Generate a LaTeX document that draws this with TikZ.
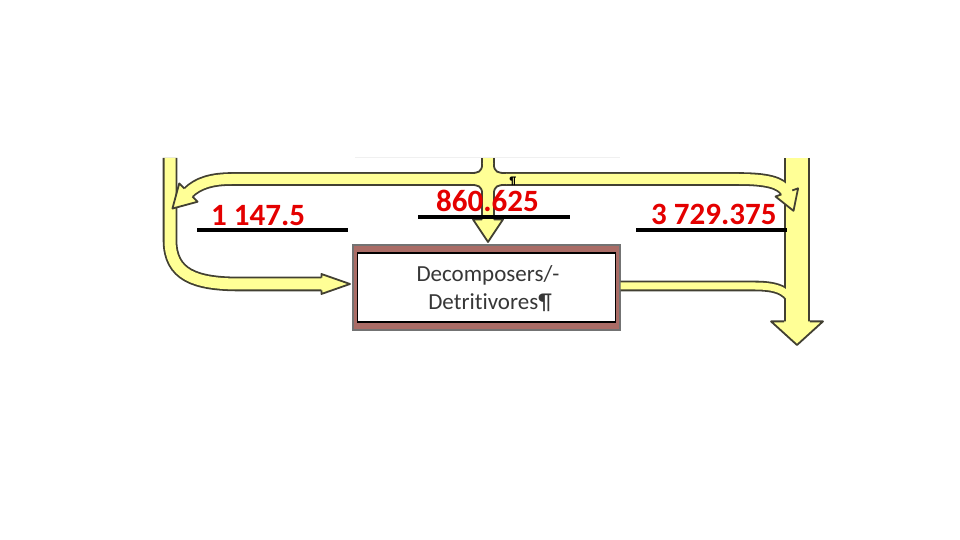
\documentclass[tikz,border=0pt]{standalone}
\usepackage{fontspec}
\setmainfont{Carlito}
\newfontfamily\boxfont{Carlito}[Ligatures=NoCommon]
\definecolor{yel}{RGB}{255,255,150}
\definecolor{ol}{RGB}{66,64,50}
\definecolor{brn}{RGB}{170,108,102}
\definecolor{lblred}{RGB}{228,0,0}
\definecolor{txt}{RGB}{55,55,55}
% arrow head: #1 base coordinate, #2 angle, #3 half band width, #4 half head width, #5 length
\newcommand\yhead[5]{%
  \begin{scope}[shift={(#1)}, rotate=#2]
    \fill[yel] (-0.6,-#4) -- (#5,0) -- (-0.6,#4) -- cycle;
    \draw[headline] (-0.6,-#3) -- (-0.6,-#4) -- (#5,0) -- (-0.6,#4) -- (-0.6,#3);
  \end{scope}}
\begin{document}
\begin{tikzpicture}[x=1pt,y=1pt,
  bandout/.style={draw=ol,line width=#1,line cap=butt},
  bandin/.style={draw=yel,line width=#1,line cap=butt},
  headline/.style={draw=ol,line width=1.8pt,line join=round},
  flare/.style={draw=ol,line width=1.8pt},
  lbl/.style={font=\bfseries\fontsize{31}{31}\selectfont,text=lblred,inner sep=0pt,anchor=base west},
  uline/.style={draw=black,line width=3.4pt},
  boxtxt/.style={font=\boxfont\fontsize{23}{28}\selectfont,text=txt,inner sep=0pt,anchor=base}]
\useasboundingbox (0,0) rectangle (960,540);
% coordinates
\coordinate (Ltop) at (170,382);
\coordinate (Lhead) at (322,256);
\coordinate (Tl) at (188,347);
\coordinate (Tr) at (787,347);
\coordinate (Mtop) at (488,382);
\coordinate (Mhead) at (488,320);
\coordinate (Rtop) at (797,382);
\coordinate (Rhead) at (797,218);
\coordinate (Cend) at (795,232);
% box
\node[draw=black!55,fill=brn,line width=1.2pt,minimum width=267pt,minimum height=85pt,inner sep=0pt] (box) at (486.5,252.5) {};
\coordinate (Cstart) at ([yshift=1.5pt]box.east);
% faint top line
\draw[gray!12,line width=1pt] (355,382) -- (620,382);
% band outlines
\draw[bandout=14.6pt] (Ltop) -- (170,300) .. controls (170,265) and (195,256) .. (240,256) -- (Lhead);
\draw[bandout=13.6pt] (Tl) .. controls (198,357) and (212,361) .. (232,361) -- (738,361) .. controls (765,361) and (782,358) .. (Tr);
\draw[bandout=13.6pt] (Mtop) -- (Mhead);
\draw[bandout=10.6pt] (Cstart) -- (755,254) .. controls (780,254) and (790,248) .. (Cend);
\draw[bandout=25.6pt] (Rtop) -- (Rhead);
% band interiors
\draw[bandin=11pt] (Ltop) -- (170,300) .. controls (170,265) and (195,256) .. (240,256) -- (Lhead);
\draw[bandin=10pt] (Tl) .. controls (198,357) and (212,361) .. (232,361) -- (738,361) .. controls (765,361) and (782,358) .. (Tr);
\draw[bandin=10pt] (Mtop) -- (Mhead);
\draw[bandin=7pt] (Cstart) -- (755,254) .. controls (780,254) and (790,248) .. (Cend);
\draw[bandin=22pt] (Rtop) -- (Rhead);
% flares at middle junction
\fill[yel] (482.1,376) .. controls (482.1,368) and (478,366.9) .. (470,366.9) -- (470,365) -- (506,365) -- (506,366.9) .. controls (498,366.9) and (493.9,368) .. (493.9,376) -- cycle;
\draw[flare] (482.1,376) .. controls (482.1,368) and (478,366.9) .. (470,366.9);
\draw[flare] (506,366.9) .. controls (498,366.9) and (493.9,368) .. (493.9,376);
\fill[yel] (470,355.1) -- (470,357) -- (506,357) -- (506,355.1) .. controls (498,355.1) and (493.9,354) .. (493.9,346) -- (482.1,346) .. controls (482.1,354) and (478,355.1) .. (470,355.1) -- cycle;
\draw[flare] (506,355.1) .. controls (498,355.1) and (493.9,354) .. (493.9,346);
\draw[flare] (482.1,346) .. controls (482.1,354) and (478,355.1) .. (470,355.1);
% arrow heads
\yhead{Lhead}{0}{6.3}{10}{28}
\yhead{Tl}{-135}{5.8}{13}{22}
\yhead{Tr}{-70}{5.8}{12}{19}
\yhead{Mhead}{-90}{5.8}{15}{22}
\yhead{Rhead}{-90}{12.8}{26}{23}
% inner box and text
\node[draw=black,fill=white,line width=1.6pt,minimum width=258pt,minimum height=69pt,inner sep=0pt] (inner) at (box.center) {};
\node[boxtxt] (t1) at (488,258) {Decomposers/-};
\node[boxtxt] (t2) at (490,230) {Detritivores¶};
% labels
\draw[uline] (197,310) -- (348,310);
\node[lbl] (l1) at (211,314) {1 147.5};
\draw[uline] (418,323) -- (570,323);
\node[lbl] (l2) at (436,328) {860.625};
\draw[uline] (636,310) -- (787,310);
\node[lbl] (l3) at (651,315) {3 729.375};
\node[font=\bfseries\fontsize{11}{11}\selectfont,inner sep=0pt] (pil) at (513,358.5) {¶};
\end{tikzpicture}
\end{document}
